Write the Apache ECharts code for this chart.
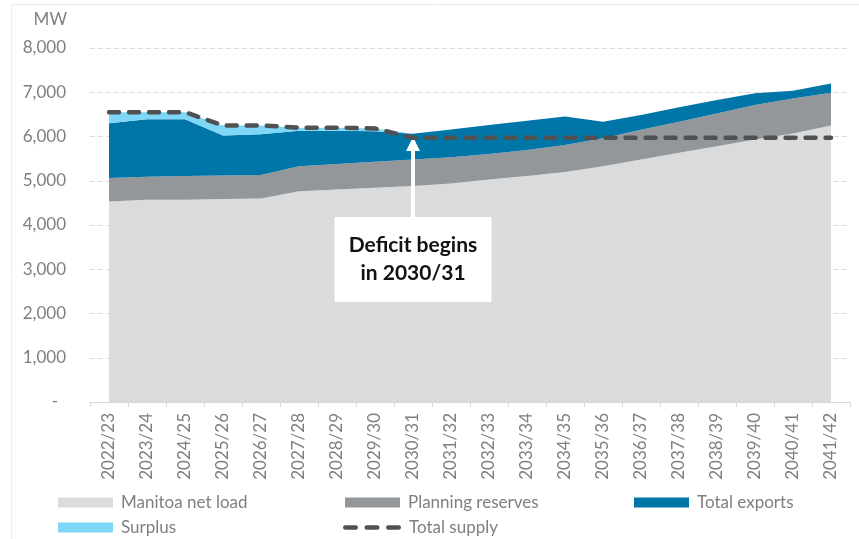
<!DOCTYPE html>
<html>
<head>
<meta charset="utf-8">
<script src="https://cdn.jsdelivr.net/npm/echarts@6/dist/echarts.min.js"></script>
<style>
  html, body { margin: 0; padding: 0; background: #fff; }
  #chart { width: 859px; height: 539px; }
</style>
</head>
<body>
<div id="chart"></div>
<script>
// Fiscal years on the category axis
const years = ['2022/23', '2023/24', '2024/25', '2025/26', '2026/27', '2027/28', '2028/29',
  '2029/30', '2030/31', '2031/32', '2032/33', '2033/34', '2034/35', '2035/36', '2036/37',
  '2037/38', '2038/39', '2039/40', '2040/41', '2041/42'];

// Stacked components (MW)
const netLoad = [4530, 4570, 4570, 4590, 4600, 4760, 4800, 4840, 4880, 4940,
  5030, 5110, 5200, 5330, 5480, 5630, 5780, 5930, 6070, 6250];
const planningReserves = [530, 520, 535, 530, 530, 570, 580, 590, 600, 590,
  575, 585, 610, 630, 670, 705, 740, 780, 790, 740];
const totalExports = [1240, 1300, 1285, 900, 920, 800, 750, 690, 580, 630,
  655, 660, 640, 375, 335, 325, 305, 265, 175, 210];
const surplus = [250, 160, 160, 230, 200, 70, 70, 60, 0, 0,
  0, 0, 0, 0, 0, 0, 0, 0, 0, 0];

// Available supply (MW)
const totalSupply = [6550, 6550, 6550, 6250, 6250, 6200, 6200, 6180, 5970, 5970,
  5970, 5970, 5970, 5970, 5970, 5970, 5970, 5970, 5970, 5970];

// Value axis ticks
const yTicks = { min: 0, max: 8000, step: 1000 };

const FONT = 'Lato, "Open Sans", sans-serif';
const GREY_TEXT = '#7f7f7f';

// three rounded dashes for the supply legend key
const DASH_ICON = 'path://' +
  'M2.25,0H12.75A2.25,2.25 0 0 1 12.75,4.5H2.25A2.25,2.25 0 0 1 2.25,0Z' +
  'M23.75,0H34.25A2.25,2.25 0 0 1 34.25,4.5H23.75A2.25,2.25 0 0 1 23.75,0Z' +
  'M45.25,0H55.75A2.25,2.25 0 0 1 55.75,4.5H45.25A2.25,2.25 0 0 1 45.25,0Z';

function areaSeries(name, data, color) {
  return {
    name: name,
    type: 'line',
    stack: 'total',
    data: data,
    symbol: 'none',
    lineStyle: { width: 0 },
    areaStyle: { color: color, opacity: 1 },
    itemStyle: { color: color },
    emphasis: { disabled: true },
    silent: true
  };
}

function legendItem(name, left, top, icon, w, h) {
  return {
    left: left,
    top: top,
    padding: 0,
    itemWidth: w || 55,
    itemHeight: h || 10,
    selectedMode: false,
    textStyle: { color: GREY_TEXT, fontSize: 17, fontFamily: FONT, padding: [0, 0, 0, 3] },
    data: [{ name: name, icon: icon }]
  };
}

const chart = echarts.init(document.getElementById('chart'), null, { renderer: 'canvas' });

chart.setOption({
  animation: false,
  backgroundColor: '#ffffff',
  graphic: [{
    type: 'rect',
    silent: true,
    shape: { x: 11.5, y: 4.5, width: 900, height: 600 },
    style: { fill: 'none', stroke: '#ececec', lineWidth: 1 }
  }],
  grid: { left: 90, right: 9, top: 48, bottom: 137 },
  legend: [
    legendItem('Manitoa net load', 58, 494, 'rect'),
    legendItem('Planning reserves', 345, 494, 'rect'),
    legendItem('Total exports', 634, 494, 'rect'),
    legendItem('Surplus', 58, 519, 'rect'),
    legendItem('Total supply', 343, 519, DASH_ICON, 58, 4.5)
  ],
  xAxis: {
    type: 'category',
    data: years,
    boundaryGap: true,
    axisLine: { lineStyle: { color: '#d9d9d9', width: 1 } },
    axisTick: { show: true, length: 5, lineStyle: { color: '#d9d9d9' } },
    axisLabel: {
      rotate: 90,
      margin: 11,
      color: GREY_TEXT,
      fontSize: 17,
      fontFamily: FONT,
      interval: 0
    }
  },
  yAxis: {
    type: 'value',
    min: yTicks.min,
    max: yTicks.max,
    interval: yTicks.step,
    name: 'MW',
    nameLocation: 'end',
    nameGap: 28,
    nameTextStyle: {
      color: GREY_TEXT, fontSize: 17, fontFamily: FONT,
      align: 'right', verticalAlign: 'middle', padding: [0, 23, 0, 0]
    },
    axisLine: { show: false },
    axisTick: { show: false },
    axisLabel: {
      margin: 24,
      color: GREY_TEXT,
      fontSize: 17,
      fontFamily: FONT,
      formatter: function (v) {
        return v === 0 ? '{z|-}' : v.toLocaleString('en-US');
      },
      rich: {
        z: { color: GREY_TEXT, fontSize: 17, fontFamily: FONT, padding: [0, 8, 0, 0] }
      }
    },
    splitLine: { lineStyle: { color: '#d9d9d9', type: [5, 3], width: 1 } }
  },
  series: [
    areaSeries('Manitoa net load', netLoad, '#dadbdc'),
    areaSeries('Planning reserves', planningReserves, '#939799'),
    areaSeries('Total exports', totalExports, '#0076a8'),
    areaSeries('Surplus', surplus, '#7fd7f7'),
    {
      name: 'Total supply',
      type: 'line',
      data: totalSupply,
      symbol: 'none',
      z: 5,
      silent: true,
      emphasis: { disabled: true },
      itemStyle: { color: '#4f5153' },
      lineStyle: { color: '#4f5153', width: 4.5, type: [10, 10], cap: 'round' },
      markLine: {
        silent: true,
        animation: false,
        symbol: ['none', 'triangle'],
        symbolSize: 14,
        label: { show: false },
        emphasis: { disabled: true },
        lineStyle: { color: '#ffffff', width: 4, type: 'solid', opacity: 1 },
        data: [[
          { coord: ['2030/31', 4150] },
          { coord: ['2030/31', 5830] }
        ]]
      },
      markPoint: {
        silent: true,
        animation: false,
        data: [{
          coord: ['2030/31', 3220],
          symbol: 'rect',
          symbolSize: [157, 85],
          itemStyle: { color: '#ffffff' },
          label: {
            show: true,
            position: 'inside',
            formatter: 'Deficit begins\nin 2030/31',
            color: '#111111',
            fontSize: 21,
            fontWeight: 'bold',
            fontFamily: FONT,
            lineHeight: 28,
            align: 'center'
          }
        }]
      }
    }
  ]
});
</script>
</body>
</html>
